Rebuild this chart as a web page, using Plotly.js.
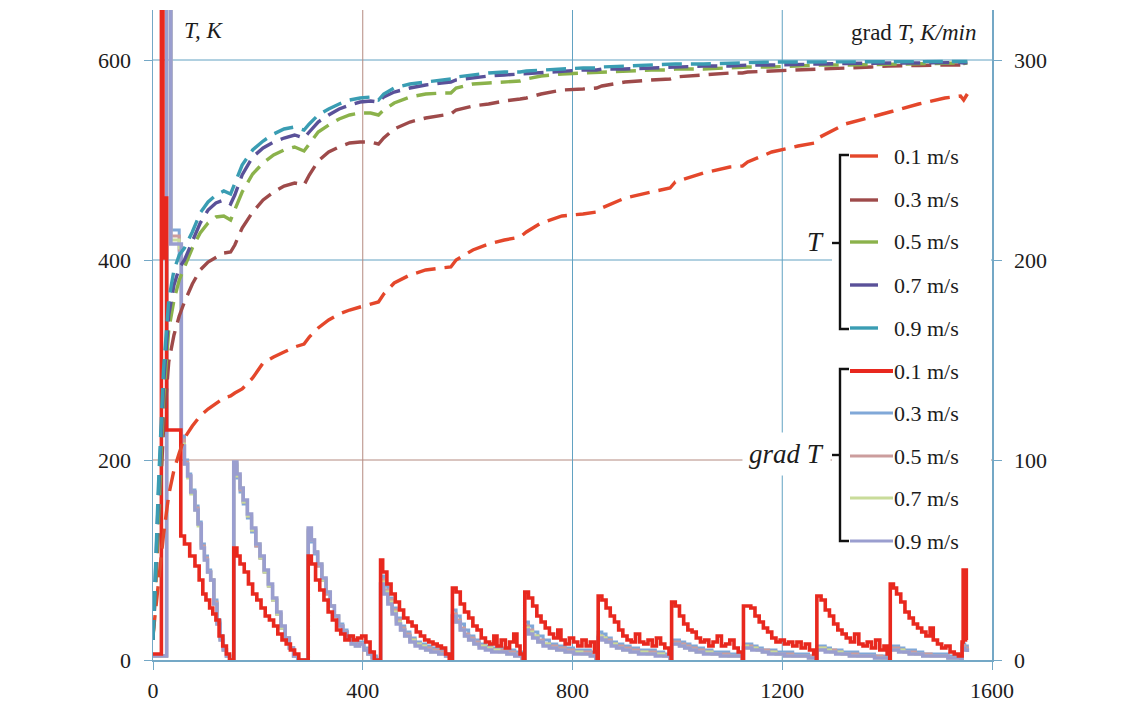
<!DOCTYPE html>
<html><head><meta charset="utf-8">
<script src="https://cdn.plot.ly/plotly-3.0.1.min.js"></script>
<style>html,body{margin:0;padding:0;background:#fff;}#chart{width:1139px;height:706px;}</style>
</head><body><div id="chart"></div>
<script>
// ---------- DATA ----------
const speeds = ['0.1 m/s','0.3 m/s','0.5 m/s','0.7 m/s','0.9 m/s'];
const xTicks = [0,400,800,1200,1600];
const yTicksT = [0,200,400,600];
const yTicksGrad = [0,100,200,300];

// Temperature T, K (left axis)
const tTime = [0,10,20,30,40,50,60,75,90,105,120,135,148,156,170,190,210,230,250,270,288,298,315,335,355,375,395,415,430,440,460,490,520,550,568,578,610,640,670,700,712,740,780,820,846,856,900,950,986,996,1050,1100,1124,1134,1180,1230,1262,1272,1320,1370,1402,1412,1460,1510,1540,1546,1553];
const T01 = [25,75,125,165,190,207,222,234,244,251,257,262,264,267,271,282,297,303,308,313,316,323,332,340,346,350,353,356,358,366,377,385,390,392,393,400,410,416,420,423,428,437,444,446,448,452,462,468,472,478,487,493,494,498,508,514,517,523,536,543,547,549,556,562,564,560,566];
const T03 = [20,130,230,298,325,344,358,376,390,398,403,407,408,415,432,448,460,468,474,477,475,485,499,508,513,517,518,518,516,522,531,538,542,545,546,550,554,556,559,561,562,566,570,571,572,574,578,580,581,583,585,587,587,588,589,590,590,591,592,593,594,594,594.5,595,595.5,595,596];
const T05 = [20,150,260,330,360,380,392,412,427,437,443,444,440,450,468,486,497,505,510,513,509,516,528,535,541,545,547,547,545,550,557,563,566,567,567,572,576,577,578,579,581,584,586,587,587,588,589,590,590,591,591,592,592,593,593,594,594,595,595,595.5,596,596,596,596.5,597,596.5,597];
const T07 = [20,160,275,345,375,392,400,418,437,450,457,460,456,465,485,503,512,518,522,525,522,528,538,545,551,555,558,559,558,563,568,572,575,577,578,580,582,584,585,586,587,588,589,590,590,591,591,592,593,593,594,594,595,595,595,596,596,596,596.5,597,597,597,597,597.5,597.5,597,597.5];
const T09 = [20,170,290,360,390,405,412,428,447,458,465,469,466,476,495,510,519,526,531,533,530,536,545,551,556,560,562,563,560,566,572,576,578,580,581,583,585,587,588,588,589,590,591,592,592,593,594,595,595.5,596,596,597,597,597.5,598,598,598,598,598,598.5,598.5,598.5,598.5,598.5,598.5,598,598.5];

// Temperature gradient grad T, K/min (right axis)
const gradTime01 = [0,16,19,24,26,53,60,70,80,88,95,101,108,114,120,126,133,140,146,
154,160,166,174,182,190,198,206,214,222,230,238,246,254,262,270,278,
296,302,310,318,326,334,342,350,358,366,374,382,390,398,406,414,422,
434,438,446,454,462,470,478,486,494,502,510,518,526,534,542,550,558,565,
571,578,586,594,602,610,618,626,634,642,650,656,664,672,680,688,694,700,706,
709,716,724,732,740,748,756,764,772,778,786,794,802,810,818,826,834,842,847,
849,856,864,872,880,888,896,904,912,920,928,936,944,952,960,968,976,984,988,
989,996,1004,1012,1020,1028,1036,1044,1052,1060,1068,1076,1084,1092,1100,1108,1116,1124,
1126,1140,1148,1156,1164,1172,1180,1188,1196,1204,1212,1220,1228,1236,1244,1252,1260,1265,
1266,1274,1282,1290,1298,1306,1314,1322,1330,1338,1346,1354,1362,1370,1378,1386,1394,1400,1405,
1406,1412,1418,1426,1434,1442,1450,1458,1466,1474,1482,1488,1496,1504,1512,1520,1528,1536,
1543,1545,1551,1553];
const grad01 = [3,330,201,231,115,62,58,52,47,40,33,30,26,23,20,12,7,3,0,
56,52,48,44,38,33,30,26,22,20,17,13,10,8,5,3,0,
52,48,40,35,30,24,20,15,13,10,12,10,11,12,9,4,0,
50,44,38,33,29,25,21,19,17,14,12,10,9,8,7,6,3,0,
36,34,28,24,21,17,15,11,9,8,12,7,10,6,9,13,7,3,0,
34,31,27,22,19,16,13,11,15,10,8,11,9,7,10,7,9,4,0,
32,30,26,22,19,15,12,10,9,13,9,8,10,7,11,8,6,3,0,
29,27,22,18,15,14,11,9,10,7,9,12,7,8,10,6,4,0,
27,26,22,19,16,14,11,9,10,8,9,7,9,6,8,5,3,0,
32,30,25,22,18,15,13,11,9,13,8,7,9,6,10,5,7,3,0,
38,36,33,29,24,21,18,16,14,12,16,10,8,6,7,4,3,2,
9,45,10,10];

const gradTime = [0,22,26,30,34,42,50,54,60,66,72,80,86,92,98,104,110,116,122,128,134,140,146,
154,160,166,172,180,188,196,204,212,220,228,236,244,252,260,268,276,286,
296,302,308,314,322,330,338,346,354,362,370,378,386,394,402,410,418,426,
434,440,448,456,464,472,480,490,500,510,520,530,545,558,566,
571,578,586,594,602,612,622,634,646,660,675,690,704,
709,716,724,734,744,756,770,786,802,818,834,845,
849,856,864,874,884,896,910,926,942,958,974,986,
989,996,1004,1014,1024,1036,1050,1066,1082,1098,1112,1124,
1126,1134,1142,1152,1162,1174,1188,1204,1220,1236,1250,1264,
1266,1274,1282,1292,1302,1314,1328,1344,1360,1376,1390,1404,
1406,1414,1422,1432,1442,1454,1468,1484,1500,1516,1530,1541,
1543,1548,1553];
const grad03 = [2,2,330,330,215,215,200,112,100,93,85,77,69,58,52,45,40,30,20,12,6,2,0,
97,91,84,78,71,64,57,51,44,37,30,23,16,11,6,2,0,0,
64,59,53,47,40,33,27,22,18,15,12,10,9,9,6,4,2,0,
42,37,31,26,21,17,14,11,9,8,7,6,5,3,0,
25,22,18,15,12,10,8,7,6,6,5,4,0,
19,17,14,12,10,8,7,6,5,5,4,0,
14,13,11,9,8,7,6,5,5,4,3,0,
10,10,9,8,7,6,5,4,4,3,3,0,
8,8,7,6,5,5,4,4,3,3,2,0,
7,7,6,5,5,4,4,3,3,2,2,0,
7,7,6,5,5,4,3,3,3,2,2,0,
8,7,5];
const grad05 = [2,2,330,330,212,212,205,110,99,92,84,76,68,57,51,44,40,29,19,11,5,2,0,
98,92,85,79,72,65,57,51,44,37,30,23,16,11,6,2,0,0,
65,60,54,47,40,33,27,22,17,14,11,9,8,8,5,3,1,0,
40,35,30,25,20,16,13,10,8,7,6,5,4,2,0,
23,20,16,13,11,9,7,6,5,5,4,3,0,
17,15,12,10,8,7,6,5,4,4,3,0,
12,11,10,8,7,6,5,4,4,3,2,0,
9,9,8,7,6,5,4,3,3,2,2,0,
7,7,6,5,5,4,3,3,2,2,2,0,
6,6,5,5,4,3,3,2,2,2,1,0,
6,6,5,4,4,3,3,2,2,1,1,0,
7,6,5];
const grad07 = [2,2,330,330,210,210,206,108,98,91,83,75,67,56,50,44,40,28,18,10,5,2,0,
98,92,86,79,72,65,58,51,44,37,30,23,16,11,6,2,0,0,
65,60,54,48,40,34,27,22,17,14,11,8,7,8,5,3,1,0,
39,34,29,24,19,15,12,10,8,7,5,4,3,2,0,
22,19,15,12,10,8,7,6,5,4,3,2,0,
16,14,12,9,8,6,5,4,4,3,2,0,
12,11,9,8,6,5,4,4,3,3,2,0,
8,8,7,6,5,4,4,3,2,2,2,0,
7,6,6,5,4,4,3,2,2,2,1,0,
6,6,5,4,4,3,2,2,2,1,1,0,
5,5,5,4,3,3,2,2,2,1,1,0,
6,5,4];
const grad09 = [2,2,330,330,208,208,208,107,98,92,84,75,68,56,50,44,40,28,18,10,5,2,0,
99,93,86,80,73,66,58,52,45,38,31,24,17,11,6,2,0,0,
66,60,54,48,41,34,27,22,17,14,11,8,7,8,5,3,1,0,
38,33,28,23,18,15,12,9,7,6,5,4,3,2,0,
22,19,15,12,10,8,6,5,4,4,3,2,0,
15,13,11,9,7,6,5,4,3,3,2,0,
11,10,9,7,6,5,4,3,3,2,2,0,
8,8,7,6,5,4,3,3,2,2,2,0,
6,6,5,5,4,3,3,2,2,2,1,0,
5,5,4,4,3,3,2,2,2,1,1,0,
5,5,4,4,3,3,2,2,2,1,1,0,
6,5,4];

// ---------- STYLE ----------
const tColors = ['#e4472b','#9e4a4a','#8bb24b','#5a5199','#3a9db3'];
const gColors = ['#e8281e','#80a8d8','#cc9d9d','#c9dc9a','#9a9ecf'];
const SERIF = 'Liberation Serif, Times New Roman, serif';
const INK = '#1c1c1c';
const BLUE = '#62a2c2', BROWN = '#b48a80';

const PL=153, PR=992, PT=10, PB=660;
const px = x => (x-PL)/(PR-PL);
const py = y => (PB-y)/(PB-PT);

const traces = [];
const gradSeries = [grad01, grad03, grad05, grad07, grad09];
// draw 0.3..0.9 then 0.1 on top
[1,2,3,4,0].forEach(i=>{
  traces.push({
    x: i===0 ? gradTime01 : gradTime, y: gradSeries[i], yaxis:'y',
    type:'scatter', mode:'lines', line:{color:gColors[i], width: i===0?3.6:(i===4?3.6:3), shape:'hv'},
    name:'grad T '+speeds[i], showlegend:false, hoverinfo:'skip'
  });
});
const tSeries = [T01,T03,T05,T07,T09];
[0,1,2,3,4].forEach(i=>{
  traces.push({
    x: tTime, y: tSeries[i], yaxis:'y2', type:'scatter', mode:'lines',
    line:{color:tColors[i], width:3.4, dash:'20px,9px'},
    name:'T '+speeds[i], showlegend:false, hoverinfo:'skip'
  });
});

// gridlines as shapes (mixed colours like the reference)
const shapes = [];
const hGridColor = {200:BROWN, 400:BLUE, 600:BLUE};
yTicksT.filter(v=>v>0).forEach(v=>{
  shapes.push({type:'line', xref:'paper', yref:'y2', x0:0, x1:1, y0:v, y1:v, layer:'below', line:{color:hGridColor[v], width:1}});
});
const vGridColor = {400:BROWN, 800:BLUE, 1200:BLUE};
xTicks.filter(v=>v>0 && v<1600).forEach(v=>{
  shapes.push({type:'line', xref:'x', yref:'paper', x0:v, x1:v, y0:0, y1:1, layer:'below', line:{color:vGridColor[v], width:1}});
});
// white legend backdrop
shapes.push({type:'rect', xref:'paper', yref:'paper', x0:px(832), x1:px(991), y0:py(553), y1:py(145), layer:'below', fillcolor:'#ffffff', line:{width:0}});

// legend brackets
const brk = (top, bot, mid) => {
  const xv = px(840), xh = px(849), xm = px(832);
  shapes.push({type:'path', xref:'paper', yref:'paper', layer:'above',
    path:`M ${xh} ${py(top)} L ${xv} ${py(top)} L ${xv} ${py(bot)} L ${xh} ${py(bot)}`,
    line:{color:'#111', width:2.4}});
  shapes.push({type:'line', xref:'paper', yref:'paper', x0:xm, x1:xv, y0:py(mid), y1:py(mid), layer:'above', line:{color:'#111', width:2.4}});
};
brk(155, 329, 243);
brk(369, 541, 455);

const annotations = [];
const tRows = [156, 200, 242, 285, 328];
const gRows = [371, 413, 456, 498, 541];
tRows.forEach((yy,i)=>{
  shapes.push({type:'line', xref:'paper', yref:'paper', x0:px(850), x1:px(878), y0:py(yy), y1:py(yy), layer:'above', line:{color:tColors[i], width:3.4}});
  annotations.push({xref:'paper', yref:'paper', x:px(892), y:py(yy), xanchor:'left', yanchor:'middle', showarrow:false,
    text:speeds[i], font:{family:SERIF, size:22, color:INK}});
});
gRows.forEach((yy,i)=>{
  shapes.push({type:'line', xref:'paper', yref:'paper', x0:px(850), x1:px(893), y0:py(yy), y1:py(yy), layer:'above', line:{color:gColors[i], width: i===0?4:3}});
  annotations.push({xref:'paper', yref:'paper', x:px(892), y:py(yy), xanchor:'left', yanchor:'middle', showarrow:false,
    text:speeds[i], font:{family:SERIF, size:22, color:INK}});
});
annotations.push({xref:'paper', yref:'paper', x:px(826), y:py(242), xanchor:'right', yanchor:'middle', showarrow:false,
  text:'<i>T</i>', font:{family:SERIF, size:27, color:INK}});
annotations.push({xref:'paper', yref:'paper', x:px(831), y:py(454), xanchor:'right', yanchor:'middle', showarrow:false,
  text:'<i>grad T</i>', font:{family:SERIF, size:27, color:INK}, bgcolor:'#ffffff', borderpad:6});
// axis titles
annotations.push({xref:'paper', yref:'paper', x:px(182), y:py(30), xanchor:'left', yanchor:'middle', showarrow:false,
  text:'<i>T, K</i>', font:{family:SERIF, size:23, color:INK}});
annotations.push({xref:'paper', yref:'paper', x:px(978), y:py(32), xanchor:'right', yanchor:'middle', showarrow:false,
  text:'grad <i>T, K/min</i>', font:{family:SERIF, size:23, color:INK}});

const axBase = {showgrid:false, zeroline:false, showline:true, linecolor:'#74a8c6', linewidth:1.5,
  ticks:'outside', ticklen:8, tickcolor:'#74a8c6', tickwidth:1,
  tickfont:{family:SERIF, size:22, color:INK}, fixedrange:true};

const layout = {
  width:1139, height:706,
  margin:{l:PL, r:1139-PR, t:PT, b:706-PB, pad:0},
  paper_bgcolor:'#ffffff', plot_bgcolor:'rgba(0,0,0,0)',
  showlegend:false,
  xaxis: Object.assign({}, axBase, {range:[0,1600], tickmode:'array', tickvals:xTicks, ticktext:xTicks.map(String), ticklabelstandoff:2}),
  yaxis: Object.assign({}, axBase, {side:'right', range:[0,325], tickmode:'array', tickvals:yTicksGrad, ticktext:yTicksGrad.map(String), ticklabelstandoff:8}),
  yaxis2: Object.assign({}, axBase, {side:'left', overlaying:'y', range:[0,650], tickmode:'array', tickvals:yTicksT, ticktext:yTicksT.map(String), ticklabelstandoff:8}),
  shapes: shapes,
  annotations: annotations
};

Plotly.newPlot('chart', traces, layout, {staticPlot:true, displayModeBar:false});
</script>
</body></html>
